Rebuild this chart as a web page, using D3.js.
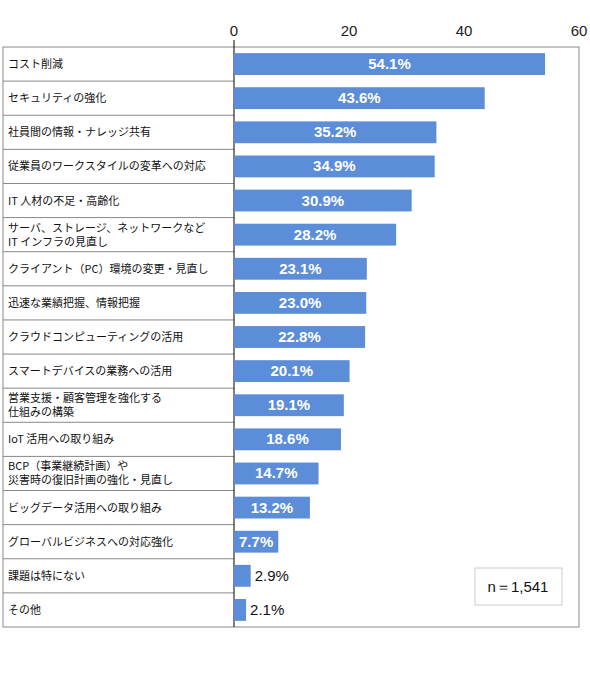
<!DOCTYPE html>
<html lang="ja">
<head>
<meta charset="UTF-8">
<script src="https://d3js.org/d3.v7.min.js"></script>
<style>
  body { margin: 0; background: #fff; font-family: "Noto Sans CJK JP", sans-serif; }
</style>
</head>
<body>
<svg id="chart" width="590" height="683"></svg>
<script>
const categories = [
  ["コスト削減"],
  ["セキュリティの強化"],
  ["社員間の情報・ナレッジ共有"],
  ["従業員のワークスタイルの変革への対応"],
  ["IT 人材の不足・高齢化"],
  ["サーバ、ストレージ、ネットワークなど", "IT インフラの見直し"],
  ["クライアント（PC）環境の変更・見直し"],
  ["迅速な業績把握、情報把握"],
  ["クラウドコンピューティングの活用"],
  ["スマートデバイスの業務への活用"],
  ["営業支援・顧客管理を強化する", "仕組みの構築"],
  ["IoT 活用への取り組み"],
  ["BCP（事業継続計画）や", "災害時の復旧計画の強化・見直し"],
  ["ビッグデータ活用への取り組み"],
  ["グローバルビジネスへの対応強化"],
  ["課題は特にない"],
  ["その他"]
];
const values = [54.1, 43.6, 35.2, 34.9, 30.9, 28.2, 23.1, 23.0, 22.8, 20.1, 19.1, 18.6, 14.7, 13.2, 7.7, 2.9, 2.1];
const ticks = [0, 20, 40, 60];
const note = "n＝1,541";

const svg = d3.select("#chart");
const x = d3.scaleLinear().domain([0, 60]).range([234, 579]);
const y = d3.scaleBand().domain(d3.range(values.length)).range([47, 627]).paddingInner(0.36).paddingOuter(0.18);
const rowY = d3.scaleBand().domain(d3.range(values.length)).range([47, 627]);
const left = 3;

// table
svg.append("rect").attr("x", left).attr("y", 47).attr("width", 576).attr("height", 580)
  .attr("fill", "none").attr("stroke", "#888").attr("stroke-width", 1);
svg.selectAll(".row").data(d3.range(1, values.length)).join("line")
  .attr("x1", left).attr("x2", x(0))
  .attr("y1", d => rowY(d)).attr("y2", d => rowY(d))
  .attr("stroke", "#888");

// axis
svg.append("line").attr("x1", x(0)).attr("x2", x(0)).attr("y1", 40).attr("y2", 627).attr("stroke", "#000");
svg.selectAll(".tick").data(ticks).join("text")
  .attr("x", d => x(d)).attr("y", 36).attr("text-anchor", "middle")
  .attr("font-size", 15).attr("font-family", "Liberation Sans, Arial").attr("fill", "#222").text(d => d);

// category labels
svg.selectAll(".cat").data(categories).join("text")
  .attr("font-size", 11).attr("fill", "#111")
  .each(function (d, i) {
    const cy = rowY(i) + rowY.bandwidth() / 2;
    const t = d3.select(this);
    d.forEach((s, k) => {
      t.append("tspan").attr("x", 8)
        .attr("y", cy + (k - (d.length - 1) / 2) * 14 + 4).text(s);
    });
  });

// bars
svg.selectAll(".bar").data(values).join("rect")
  .attr("x", x(0)).attr("y", (d, i) => y(i))
  .attr("width", d => x(d) - x(0)).attr("height", y.bandwidth())
  .attr("fill", "#5b8dd9");

svg.selectAll(".val").data(values).join("text")
  .attr("font-family", "Liberation Sans, Arial").attr("font-size", 15)
  .attr("y", (d, i) => y(i) + y.bandwidth() / 2 + 5)
  .attr("x", d => d < 5 ? x(d) + 4 : (x(0) + x(d)) / 2)
  .attr("text-anchor", d => d < 5 ? "start" : "middle")
  .attr("font-weight", d => d < 5 ? "normal" : "bold")
  .attr("fill", d => d < 5 ? "#111" : "#fff")
  .text(d => d.toFixed(1) + "%");

// note box
svg.append("rect").attr("x", 475).attr("y", 568).attr("width", 87).attr("height", 37)
  .attr("fill", "#fff").attr("stroke", "#ccc");
svg.append("text").attr("x", 518).attr("y", 592).attr("text-anchor", "middle")
  .attr("font-size", 15).attr("font-family", "Liberation Sans, Arial").attr("fill", "#111").text(note);
</script>
</body>
</html>
